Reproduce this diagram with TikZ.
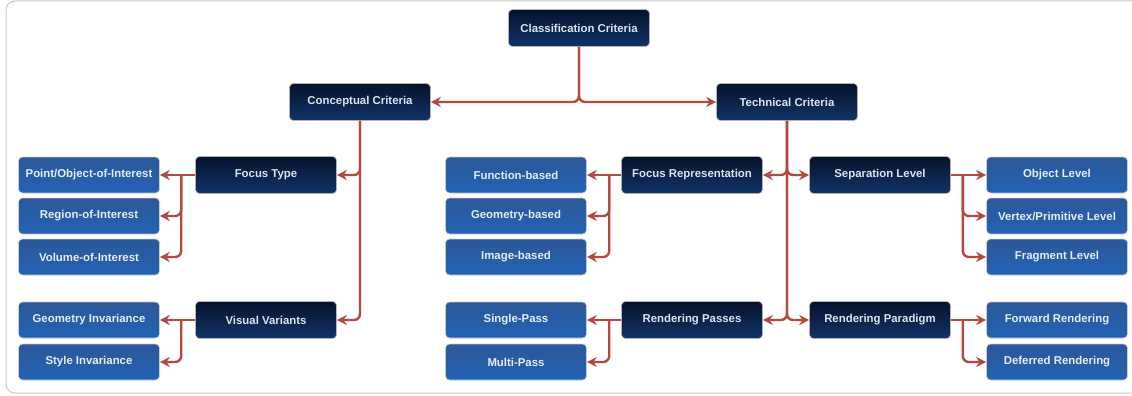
\documentclass[tikz,border=0pt]{standalone}
\usepackage{fontspec}
\setmainfont{Liberation Sans}
\usetikzlibrary{arrows.meta}
\definecolor{arrowred}{HTML}{B5483F}
\definecolor{darktop}{HTML}{06122C}
\definecolor{darkbot}{HTML}{103468}
\definecolor{lighttop}{HTML}{2C5898}
\definecolor{lightbot}{HTML}{2262B6}
\definecolor{txtdark}{HTML}{DCE4F0}
\definecolor{txtlight}{HTML}{E6EEF8}
\definecolor{framegray}{HTML}{C8C8C8}
\tikzset{
  darkbox/.style={rounded corners=4pt, top color=darktop, bottom color=darkbot,
    draw=black!30, line width=0.6pt, minimum width=141pt, minimum height=37pt,
    text=txtdark, font=\bfseries\fontsize{11.4}{13}\selectfont, inner sep=0pt},
  lightbox/.style={rounded corners=4pt, top color=lighttop, bottom color=lightbot,
    draw=black!20, line width=0.6pt, minimum width=141pt, minimum height=36pt,
    text=txtlight, font=\bfseries\fontsize{11.4}{13}\selectfont, inner sep=0pt},
  conn/.style={draw=arrowred, line width=2.4pt, rounded corners=6pt,
    -{Stealth[length=10pt,width=10pt]}}
}
\begin{document}
\begin{tikzpicture}[x=1pt,y=-1pt]
\useasboundingbox (0,0) rectangle (1132,396);
\draw[framegray, line width=1pt, rounded corners=9pt] (6,1) rectangle (1145,393);

% nodes
\node[darkbox] (cls) at (579,28) {Classification Criteria};
\node[darkbox] (con) at (360,102) {Conceptual Criteria};
\node[darkbox] (tec) at (787,102) {Technical Criteria};

\node[darkbox] (ft) at (266,175) {Focus Type};
\node[darkbox] (vv) at (266,320) {Visual Variants};
\node[lightbox] (poi) at (89,175) {Point/Object-of-Interest};
\node[lightbox] (roi) at (89,216) {Region-of-Interest};
\node[lightbox] (voi) at (89,257) {Volume-of-Interest};
\node[lightbox] (gi) at (89,320) {Geometry Invariance};
\node[lightbox] (si) at (89,362) {Style Invariance};

\node[darkbox] (fr) at (692,175) {Focus Representation};
\node[darkbox] (rp) at (692,320) {Rendering Passes};
\node[lightbox] (fb) at (516,175) {Function-based};
\node[lightbox] (gb) at (516,216) {Geometry-based};
\node[lightbox] (ib) at (516,257) {Image-based};
\node[lightbox] (sp) at (516,320) {Single-Pass};
\node[lightbox] (mp) at (516,362) {Multi-Pass};

\node[darkbox] (sl) at (880,175) {Separation Level};
\node[darkbox] (rpar) at (880,320) {Rendering Paradigm};
\node[lightbox] (ol) at (1057,175) {Object Level};
\node[lightbox] (vl) at (1057,216) {Vertex/Primitive Level};
\node[lightbox] (fl) at (1057,257) {Fragment Level};
\node[lightbox] (fwd) at (1057,320) {Forward Rendering};
\node[lightbox] (def) at (1057,362) {Deferred Rendering};

% top split
\draw[conn] (cls.south) |- (con.east);
\draw[conn] (cls.south) |- (tec.west);

% conceptual
\draw[conn] (con.south) |- (ft.east);
\draw[conn] (con.south) |- (vv.east);

% technical
\draw[conn] (tec.south) |- (fr.east);
\draw[conn] (tec.south) |- (sl.west);
\draw[conn] (tec.south) |- (rp.east);
\draw[conn] (tec.south) |- (rpar.west);

% focus type
\coordinate (ftj) at ([xshift=-14pt]ft.west);
\draw[conn] (ft.west) -- (poi.east);
\draw[conn] (ftj) |- (roi.east);
\draw[conn] (ftj) |- (voi.east);

% visual variants
\coordinate (vvj) at ([xshift=-14pt]vv.west);
\draw[conn] (vv.west) -- (gi.east);
\draw[conn] (vvj) |- (si.east);

% focus representation
\coordinate (frj) at ([xshift=-12pt]fr.west);
\draw[conn] (fr.west) -- (fb.east);
\draw[conn] (frj) |- (gb.east);
\draw[conn] (frj) |- (ib.east);

% rendering passes
\coordinate (rpj) at ([xshift=-12pt]rp.west);
\draw[conn] (rp.west) -- (sp.east);
\draw[conn] (rpj) |- (mp.east);

% separation level
\coordinate (slj) at ([xshift=12pt]sl.east);
\draw[conn] (sl.east) -- (ol.west);
\draw[conn] (slj) |- (vl.west);
\draw[conn] (slj) |- (fl.west);

% rendering paradigm
\coordinate (rparj) at ([xshift=12pt]rpar.east);
\draw[conn] (rpar.east) -- (fwd.west);
\draw[conn] (rparj) |- (def.west);
\end{tikzpicture}
\end{document}
